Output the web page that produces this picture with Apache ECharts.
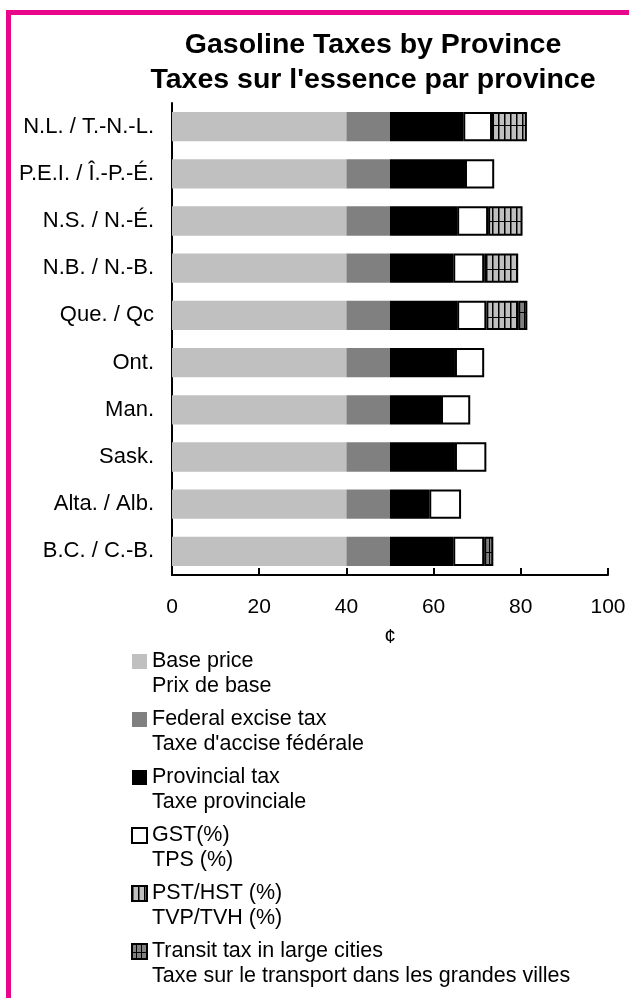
<!DOCTYPE html>
<html>
<head>
<meta charset="utf-8">
<script src="https://cdn.jsdelivr.net/npm/echarts@6/dist/echarts.min.js"></script>
<style>
html,body{margin:0;padding:0;background:#fff;}
#chart{width:629px;height:998px;}
</style>
</head>
<body>
<div id="chart"></div>
<script>
var categories = ['N.L. / T.-N.-L.', 'P.E.I. / Î.-P.-É.', 'N.S. / N.-É.', 'N.B. / N.-B.', 'Que. / Qc', 'Ont.', 'Man.', 'Sask.', 'Alta. / Alb.', 'B.C. / C.-B.'];
var basePrice   = [40, 40, 40, 40, 40, 40, 40, 40, 40, 40];
var federalTax  = [10, 10, 10, 10, 10, 10, 10, 10, 10, 10];
var provincialTax = [16.8, 17.2, 15.4, 14.5, 15.4, 14.9, 11.7, 14.9, 9.0, 14.5];
var gst         = [6.6, 6.7, 7.1, 7.1, 6.7, 6.7, 6.7, 7.2, 7.3, 7.1];
var pstHst      = [8.0, 0, 7.9, 7.8, 7.3, 0, 0, 0, 0, 0];
var transitTax  = [0, 0, 0, 0, 2.1, 0, 0, 0, 0, 2.1];
var xTicks = [0, 20, 40, 60, 80, 100];
var seriesNames = ['Base price', 'Federal excise tax', 'Provincial tax', 'GST(%)', 'PST/HST (%)', 'Transit tax in large cities'];
var seriesNamesFr = ['Prix de base', "Taxe d'accise fédérale", 'Taxe provinciale', 'TPS (%)', 'TVP/TVH (%)', 'Taxe sur le transport dans les grandes villes'];

function makePattern(w, h, bg, draw) {
  var c = document.createElement('canvas');
  c.width = w; c.height = h;
  var ctx = c.getContext('2d');
  ctx.fillStyle = bg; ctx.fillRect(0, 0, w, h);
  ctx.fillStyle = '#000';
  draw(ctx);
  return {image: c, repeat: 'repeat'};
}
var pstPattern = makePattern(6, 48, '#c0c0c0', function (ctx) {
  ctx.fillRect(0, 0, 1.5, 48);
  ctx.fillRect(0, 29, 6, 1);
});
var transitPattern = makePattern(5, 16, '#808080', function (ctx) {
  ctx.fillRect(4, 0, 1, 16);
  ctx.fillRect(0, 8, 5, 1);
});

var FONT = 'Liberation Sans, Arial, sans-serif';
function nz(arr) { return arr.map(function (v) { return v === 0 ? '-' : v; }); }

var styles = [
  {color: '#c0c0c0'},
  {color: '#808080'},
  {color: '#000000'},
  {color: '#ffffff', borderColor: '#000', borderWidth: 2},
  {color: pstPattern, borderColor: '#000', borderWidth: 2},
  {color: transitPattern, borderColor: '#000', borderWidth: 2}
];
var dataSets = [basePrice, federalTax, provincialTax, gst, nz(pstHst), nz(transitTax)];

var series = seriesNames.map(function (name, i) {
  return {
    name: name,
    type: 'bar',
    stack: 'total',
    barWidth: '62%',
    itemStyle: styles[i],
    emphasis: {disabled: true},
    data: dataSets[i]
  };
});

var frMap = {};
seriesNames.forEach(function (n, i) { frMap[n] = seriesNamesFr[i]; });

var chart = echarts.init(document.getElementById('chart'), null, {renderer: 'canvas'});
chart.setOption({
  animation: false,
  backgroundColor: '#fff',
  title: {
    text: 'Gasoline Taxes by Province\nTaxes sur l\'essence par province',
    left: 373,
    top: 28,
    padding: 0,
    textAlign: 'center',
    textStyle: {fontFamily: FONT, fontWeight: 'bold', fontSize: 28.5, lineHeight: 35, color: '#000'}
  },
  graphic: [
    {type: 'rect', shape: {x: 6, y: 10, width: 5, height: 988}, style: {fill: '#e8068a'}, silent: true},
    {type: 'rect', shape: {x: 6, y: 10, width: 623, height: 5}, style: {fill: '#e8068a'}, silent: true}
  ],
  grid: {left: 172, right: 21, top: 103, bottom: 423, containLabel: false},
  xAxis: {
    type: 'value',
    min: 0, max: 100, interval: 20,
    name: '¢',
    nameLocation: 'middle',
    nameGap: 52,
    nameTextStyle: {fontFamily: FONT, fontSize: 21, color: '#000'},
    axisLine: {show: true, lineStyle: {color: '#000', width: 2}},
    axisTick: {show: true, inside: true, length: 7, lineStyle: {color: '#000', width: 2}},
    splitLine: {show: false},
    axisLabel: {
      fontFamily: FONT, fontSize: 21, color: '#000', margin: 22,
      formatter: function (v) { return xTicks.indexOf(v) >= 0 ? String(v) : ''; }
    }
  },
  yAxis: {
    type: 'category',
    inverse: true,
    data: categories,
    axisLine: {show: true, lineStyle: {color: '#000', width: 2}},
    axisTick: {show: false},
    axisLabel: {fontFamily: FONT, fontSize: 22, color: '#000', margin: 18}
  },
  legend: {
    orient: 'vertical',
    left: 131,
    top: 624,
    padding: 0,
    itemGap: -17,
    itemWidth: 15,
    itemHeight: 15,
    icon: 'rect',
    selectedMode: false,
    data: seriesNames,
    formatter: function (name) { return '\n' + name + '\n' + frMap[name]; },
    textStyle: {fontFamily: FONT, fontSize: 21.5, lineHeight: 25, color: '#000'}
  },
  series: series
});
</script>
</body>
</html>
